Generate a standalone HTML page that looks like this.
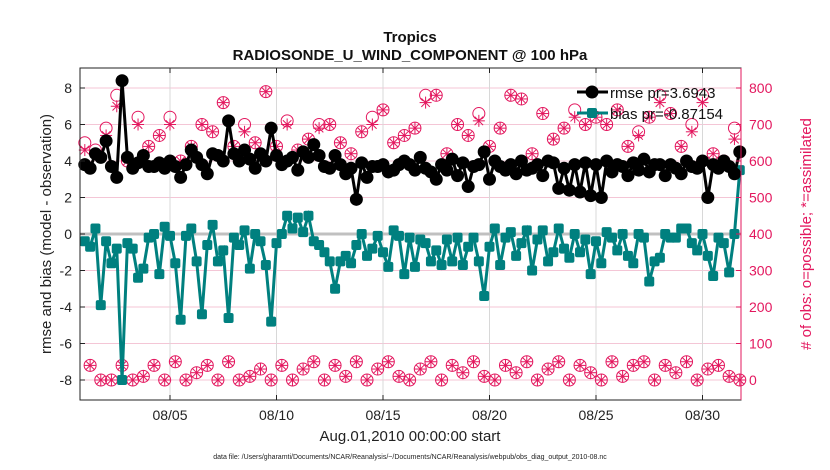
<!DOCTYPE html>
<html><head><meta charset="utf-8"><style>
body{margin:0;background:#fff;}
svg{display:block;font-family:"Liberation Sans",sans-serif;}
</style></head><body>
<svg id="c" width="830" height="470"></svg>
<script>
const rmse=[3.8,3.6,4.4,4.2,5.1,3.7,3.1,8.4,4.2,3.6,3.9,4.3,3.7,3.7,3.9,3.6,
4.0,3.7,3.1,3.8,4.6,4.2,3.8,3.3,4.4,4.3,4.0,6.2,4.4,4.0,4.6,4.1,
3.6,4.4,4.0,5.8,4.3,3.8,4.0,4.2,3.5,4.5,4.2,4.9,4.3,3.7,3.6,4.3,
3.8,3.3,3.6,1.9,3.9,3.1,3.7,3.7,3.8,3.4,3.5,3.8,4.0,3.8,3.5,4.2,
3.6,3.4,3.0,3.8,3.5,4.1,3.2,3.9,2.6,3.7,3.8,4.5,3.0,4.0,3.7,3.5,
3.8,3.3,4.0,3.5,3.6,3.8,3.2,4.0,3.9,2.5,3.6,2.4,3.8,2.3,3.9,2.1,
3.8,2.0,4.0,3.4,3.8,3.7,3.2,3.9,3.5,4.1,3.4,3.8,3.8,3.2,3.8,3.6,
3.3,4.0,3.7,3.6,4.0,2.0,3.8,3.6,4.0,3.7,3.3,4.5];
const bias=[-0.4,-0.7,0.3,-3.9,-0.4,-1.6,-0.8,-8.0,-0.5,-0.8,-2.4,-1.9,-0.2,0.0,-2.2,0.4,
-0.1,-1.6,-4.7,-0.1,0.3,-1.5,-4.4,-0.6,0.5,-1.5,-0.9,-4.6,-0.2,-0.6,0.2,-1.9,
0.0,-0.4,-1.7,-4.8,-0.5,0.0,1.0,0.3,0.9,0.1,1.0,-0.4,-0.6,-1.0,-1.5,-3.0,
-1.5,-1.2,-1.6,-0.6,0.0,-1.2,-0.8,-0.1,-1.0,-1.8,0.2,-0.1,-2.2,-0.2,-1.8,-0.3,
-0.5,-1.5,-0.9,-1.7,-0.3,-1.5,-0.2,-1.7,-0.7,-0.2,-1.5,-3.4,-0.7,0.3,-1.7,-0.2,
0.1,-1.2,-0.5,0.2,-2.0,-0.3,0.2,-1.5,-1.0,0.3,-0.8,-1.3,0.0,-1.0,-0.3,-2.2,
-0.4,-1.6,0.1,-0.2,-0.9,0.0,-1.2,-1.6,0.0,-0.2,-2.6,-1.5,-1.3,0.0,-0.2,-0.2,
0.3,0.3,-0.5,-0.9,0.0,-1.2,-2.3,-0.2,-0.5,-2.1,0.0,3.5];
const obsPossHigh=[650,630,690,780,600,720,640,670,720,600,640,700,680,760,640,700,650,790,640,710,630,660,700,700,650,620,680,720,740,650,670,690,780,780,620,700,670,730,640,690,780,770,620,730,660,690,740,700,720,700,740,640,680,720,780,730,640,700,780,620,600,690];
const obsAssimHigh=[630,620,670,750,600,700,640,670,700,600,640,700,680,760,640,680,650,790,640,700,630,660,690,700,650,620,680,700,740,650,670,690,760,780,620,700,670,710,640,690,780,770,620,730,660,690,720,700,720,700,740,640,670,720,760,730,640,680,760,620,600,660];
const obsPossLow=[40,0,0,40,0,10,40,0,50,0,20,40,0,50,0,10,30,0,40,0,30,50,0,40,10,50,0,30,50,10,0,30,50,0,40,20,50,10,0,40,20,50,0,30,50,0,40,20,0,50,10,40,50,0,40,20,50,0,30,40,10,0];
const obsAssimLow=obsPossLow;
const xTicks=["08/05","08/10","08/15","08/20","08/25","08/30"];
const xTickDays=[4,9,14,19,24,29];
const yTicks=[-8,-6,-4,-2,0,2,4,6,8];
const rTicks=[0,100,200,300,400,500,600,700,800];

const NS="http://www.w3.org/2000/svg";
const svg=document.getElementById('c');
const L=80,R=741,T=68,B=400;
const X=d=>84.8+d*21.3;
const Y=v=>234-v*18.25;
const YR=v=>380-v*0.365;
const MAG="#e3175e";
function el(tag,attrs,parent){const e=document.createElementNS(NS,tag);for(const k in attrs)e.setAttribute(k,attrs[k]);(parent||svg).appendChild(e);return e;}
function txt(s,attrs,parent){const e=el('text',attrs,parent);e.textContent=s;return e;}

const grid=el('g',{});


rTicks.forEach(v=>{el('line',{x1:L,x2:R,y1:YR(v),y2:YR(v),stroke:'#f4c6d6','stroke-width':1},grid);});
xTickDays.forEach(d=>{el('line',{x1:X(d),x2:X(d),y1:T,y2:B,stroke:'#d8d8d8','stroke-width':1},grid);});
el('line',{x1:L,x2:R,y1:Y(0),y2:Y(0),stroke:'#c0c0c0','stroke-width':3},grid);

const obs=el('g',{});


function circ(x,y){el('circle',{cx:x,cy:y,r:6,fill:'none',stroke:MAG,'stroke-width':1},obs);}
function star(x,y){const r=6;for(let a=0;a<4;a++){const t=a*Math.PI/4;el('line',{x1:x-r*Math.cos(t),y1:y-r*Math.sin(t),x2:x+r*Math.cos(t),y2:y+r*Math.sin(t),stroke:MAG,'stroke-width':1},obs);}}
obsPossHigh.forEach((v,i)=>{const x=X(i*0.5);circ(x,YR(v));star(x,YR(obsAssimHigh[i]));});
obsPossLow.forEach((v,i)=>{const x=X(i*0.5+0.25);circ(x,YR(v));star(x,YR(obsAssimLow[i]));});

const bg=el('g',{});


el('polyline',{points:bias.map((v,i)=>X(i*0.25)+','+Y(v)).join(' '),fill:'none',stroke:'#00807f','stroke-width':3},bg);
bias.forEach((v,i)=>{el('rect',{x:X(i*0.25)-5,y:Y(v)-5,width:10,height:10,rx:2,fill:'#00807f'},bg);});

const rg=el('g',{});


el('polyline',{points:rmse.map((v,i)=>X(i*0.25)+','+Y(v)).join(' '),fill:'none',stroke:'#000','stroke-width':3},rg);
rmse.forEach((v,i)=>{el('circle',{cx:X(i*0.25),cy:Y(v),r:6.5,fill:'#000'},rg);});

el('rect',{x:L,y:T,width:R-L,height:B-T,fill:'none',stroke:'#222','stroke-width':1});
const lt=el('g',{});


yTicks.forEach(v=>{el('line',{x1:L,x2:L+5,y1:Y(v),y2:Y(v),stroke:'#222'},lt);txt(String(v),{x:L-8,y:Y(v)+5,'text-anchor':'end','font-size':14,fill:'#222'},lt);});
const rt=el('g',{});


rTicks.forEach(v=>{el('line',{x1:R-5,x2:R,y1:YR(v),y2:YR(v),stroke:MAG},rt);txt(String(v),{x:R+8,y:YR(v)+5,'font-size':14,fill:MAG},rt);});
el('line',{x1:R,x2:R,y1:T,y2:B,stroke:MAG},rt);
const xt=el('g',{});


xTickDays.forEach((d,i)=>{el('line',{x1:X(d),x2:X(d),y1:B,y2:B-5,stroke:'#222'},xt);el('line',{x1:X(d),x2:X(d),y1:T,y2:T+5,stroke:'#222'},xt);txt(xTicks[i],{x:X(d),y:B+20,'text-anchor':'middle','font-size':14,fill:'#222'},xt);});

let t;
t=txt('Tropics',{x:410,y:42,'text-anchor':'middle','font-size':15,'font-weight':'bold',fill:'#111'});

t=txt('RADIOSONDE_U_WIND_COMPONENT @ 100 hPa',{x:410,y:60,'text-anchor':'middle','font-size':15,'font-weight':'bold',fill:'#111'});

t=txt('Aug.01,2010 00:00:00 start',{x:410,y:441,'text-anchor':'middle','font-size':15,fill:'#222'});

t=txt('data file: /Users/gharamti/Documents/NCAR/Reanalysis/~/Documents/NCAR/Reanalysis/webpub/obs_diag_output_2010-08.nc',{x:410,y:459,'text-anchor':'middle','font-size':7,fill:'#222'});

t=txt('rmse and bias (model - observation)',{x:0,y:0,'text-anchor':'middle','font-size':15,fill:'#222',transform:'translate(51,234) rotate(-90)'});

t=txt('# of obs: o=possible; *=assimilated',{x:0,y:0,'text-anchor':'middle','font-size':15,fill:MAG,transform:'translate(811,234) rotate(-90)'});


const lg=el('g',{});


el('line',{x1:577,x2:608,y1:92,y2:92,stroke:'#000','stroke-width':3},lg);
el('circle',{cx:592,cy:92,r:6.5,fill:'#000'},lg);
txt('rmse pr=3.6943',{x:610,y:98,'font-size':15,fill:'#111'},lg);
el('line',{x1:577,x2:608,y1:113,y2:113,stroke:'#00807f','stroke-width':3},lg);
el('rect',{x:587,y:108,width:10,height:10,rx:2,fill:'#00807f'},lg);
txt('bias pr=-0.87154',{x:610,y:119,'font-size':15,fill:'#111'},lg);
</script>
</body></html>
